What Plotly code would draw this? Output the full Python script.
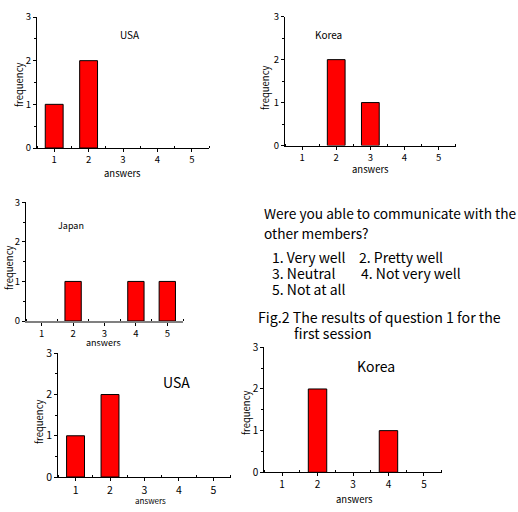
import plotly.graph_objects as go

W, H = 518, 512

answers = [1, 2, 3, 4, 5]
usa_1 = [1, 2, 0, 0, 0]
korea_1 = [0, 2, 1, 0, 0]
japan_1 = [0, 1, 0, 1, 1]
usa_2 = [1, 2, 0, 0, 0]
korea_2 = [0, 2, 0, 1, 0]

panel_names = ["USA", "Korea", "Japan", "USA", "Korea"]
panel_values = [usa_1, korea_1, japan_1, usa_2, korea_2]

# pixel boxes: (x_left, x_right, y_zero, y_three)
boxes = [
    (37, 209, 148, 17),
    (285, 455.7, 145.5, 16.7),
    (26, 183, 321, 202.3),
    (58.3, 230.7, 477, 353.3),
    (264.3, 441.7, 472.3, 347.3),
]
tick_sizes = [9.5, 9.5, 9.5, 10.5, 10]

FONT = "Noto Sans CJK JP"

def X(px):
    return px / W

def Y(py):
    return 1 - py / H

fig = go.Figure()
layout = dict(
    width=W, height=H, margin=dict(l=0, r=0, t=0, b=0, autoexpand=False),
    paper_bgcolor="white", plot_bgcolor="white", showlegend=False,
    font=dict(family=FONT, color="black"),
    template="none",
)

for i, (vals, box) in enumerate(zip(panel_values, boxes)):
    n = "" if i == 0 else str(i + 1)
    shown = [v if v else None for v in vals]  # zero counts draw no bar
    fig.add_trace(go.Bar(
        x=answers, y=shown, width=0.52,
        marker=dict(color="#ff0000", line=dict(color="black", width=1)),
        xaxis="x" + n, yaxis="y" + n,
    ))
    xl, xr, y0, y3 = box
    xline_col = "#808080" if i == 2 else "black"
    xline_w = 2 if i == 2 else 1
    layout["xaxis" + n] = dict(
        domain=[X(xl), X(xr)], range=[0.5, 5.5], anchor="y" + n,
        automargin=False,
        showline=True, linecolor=xline_col, linewidth=xline_w,
        showgrid=False, zeroline=False,
        tickmode="linear", tick0=1, dtick=1,
        ticks="outside", ticklen=3, tickcolor="black",
        minor=dict(ticks="inside", ticklen=2, tick0=0.5, dtick=1, tickcolor="black"),
        tickfont=dict(size=tick_sizes[i], family=FONT),
        fixedrange=True,
    )
    layout["yaxis" + n] = dict(
        domain=[Y(y0), Y(y3)], range=[0, 3], anchor="x" + n,
        automargin=False,
        showline=True, linecolor="black", linewidth=1,
        showgrid=False, zeroline=False,
        tickmode="linear", tick0=0, dtick=1,
        ticks="outside", ticklen=3, tickcolor="black",
        minor=dict(ticks="outside", ticklen=2, tick0=0, dtick=0.5, tickcolor="black"),
        tickfont=dict(size=tick_sizes[i], family=FONT),
        fixedrange=True,
    )

annotations = []

def txt(s, x, y, size, xanchor="center", angle=0):
    annotations.append(dict(
        text=s, x=X(x), y=Y(y), xref="paper", yref="paper",
        xanchor=xanchor, yanchor="middle", showarrow=False, textangle=angle,
        font=dict(size=size, family=FONT, color="black"),
    ))

# panel names
txt(panel_names[0], 130, 34, 10)
txt(panel_names[1], 328, 34, 10)
txt(panel_names[2], 71, 225, 9)
txt(panel_names[3], 176, 382, 14)
txt(panel_names[4], 376, 366, 14)

# axis titles
freq_pos = [(19, 85), (265, 88), (9, 268), (39, 422), (246, 413)]
ans_pos = [(122, 173), (370, 169), (103, 342), (150, 500), (354, 499)]
ans_sizes = [9.5, 9.5, 9, 8, 9.5]
for (fx, fy), (ax, ay), s in zip(freq_pos, ans_pos, ans_sizes):
    txt("frequency", fx, fy, 9.5, angle=-90)
    txt("answers", ax, ay, s)

# question text block
txt("Were you able to communicate with the", 262, 213, 13.7, xanchor="left")
txt("other members?", 262, 232.5, 13.7, xanchor="left")
txt("1. Very well", 270, 256.5, 14, xanchor="left")
txt("2. Pretty well", 357, 256.5, 14, xanchor="left")
txt("3. Neutral", 270, 272.5, 14, xanchor="left")
txt("4. Not very well", 359, 272.5, 14, xanchor="left")
txt("5. Not at all", 270, 289, 14, xanchor="left")
txt("Fig.2 The results of question 1 for the", 256, 316.5, 14.2, xanchor="left")
txt("first session", 291.5, 332.5, 14.2, xanchor="left")

# partially visible label of the next panel at the bottom edge
txt("3", 45, 515, 10)

layout["annotations"] = annotations
fig.update_layout(**layout)
fig.write_html("out.html", config={"displayModeBar": False},
               post_script="document.body.style.margin='0';")
